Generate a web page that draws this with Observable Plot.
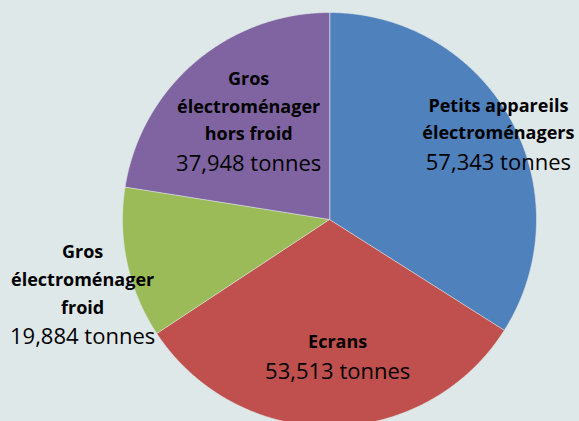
<!DOCTYPE html>
<html>
<head>
<meta charset="utf-8">
<script src="https://cdn.jsdelivr.net/npm/d3@7"></script>
<script src="https://cdn.jsdelivr.net/npm/@observablehq/plot@0.6"></script>
<style>
  html, body { margin: 0; padding: 0; background: #dfe8e9; }
  #chart svg { display: block; background: #dfe8e9; }
</style>
</head>
<body>
<div id="chart"></div>
<script>
// ---- data ----
const categories = [
  "Petits appareils\nélectroménagers",
  "Ecrans",
  "Gros\nélectroménager\nfroid",
  "Gros\nélectroménager\nhors froid"
];
const values = [57343, 53513, 19884, 37948];
const unit = "tonnes";
const colors = ["#4f81bd", "#c0504d", "#9bbb59", "#8064a2"];

// ---- layout (label placement relative to each slice's mid angle) ----
const labelRadius = [0.887, 0.663, 1.291, 0.52];
const labelAngleShift = [5.7, -2.9, -10.3, -8.2]; // degrees

const W = 579, H = 421, cx = 329, cy = 219, R = 207;
const bg = "#dfe8e9";

const arcs = d3.pie().sort(null).value(d => d)(values);

const slicePts = [];
arcs.forEach((a, i) => {
  slicePts.push({cat: categories[i], x: 0, y: 0});
  const n = Math.max(8, Math.ceil((a.endAngle - a.startAngle) / (Math.PI / 360)));
  for (let k = 0; k <= n; k++) {
    const t = a.startAngle + (a.endAngle - a.startAngle) * k / n;
    slicePts.push({cat: categories[i], x: Math.sin(t), y: Math.cos(t)});
  }
});

const fmt = d3.format(",");
const labels = arcs.map((a, i) => {
  const mid = (a.startAngle + a.endAngle) / 2 + labelAngleShift[i] * Math.PI / 180;
  return {
    cat: categories[i],
    val: fmt(values[i]) + " " + unit,
    x: labelRadius[i] * Math.sin(mid),
    y: labelRadius[i] * Math.cos(mid)
  };
});

const font = "'Open Sans', sans-serif";

const chart = Plot.plot({
  width: W,
  height: H,
  margin: 0,
  style: {background: bg, fontFamily: font, overflow: "hidden"},
  x: {domain: [-cx / R, (W - cx) / R], axis: null},
  y: {domain: [(cy - H) / R, cy / R], axis: null},
  color: {domain: categories, range: colors},
  marks: [
    Plot.line(slicePts, {x: "x", y: "y", z: "cat", fill: "cat", stroke: bg, strokeWidth: 0.6, curve: "linear-closed"}),
    Plot.text(labels, {x: "x", y: "y", text: "cat", lineAnchor: "bottom", dy: -8, fontSize: 18, fontWeight: "bold", lineHeight: 1.55, fill: "#000"}),
    Plot.text(labels, {x: "x", y: "y", text: "val", lineAnchor: "top", dy: 7, fontSize: 22, fill: "#000"})
  ]
});
document.getElementById("chart").append(chart);
</script>
</body>
</html>
